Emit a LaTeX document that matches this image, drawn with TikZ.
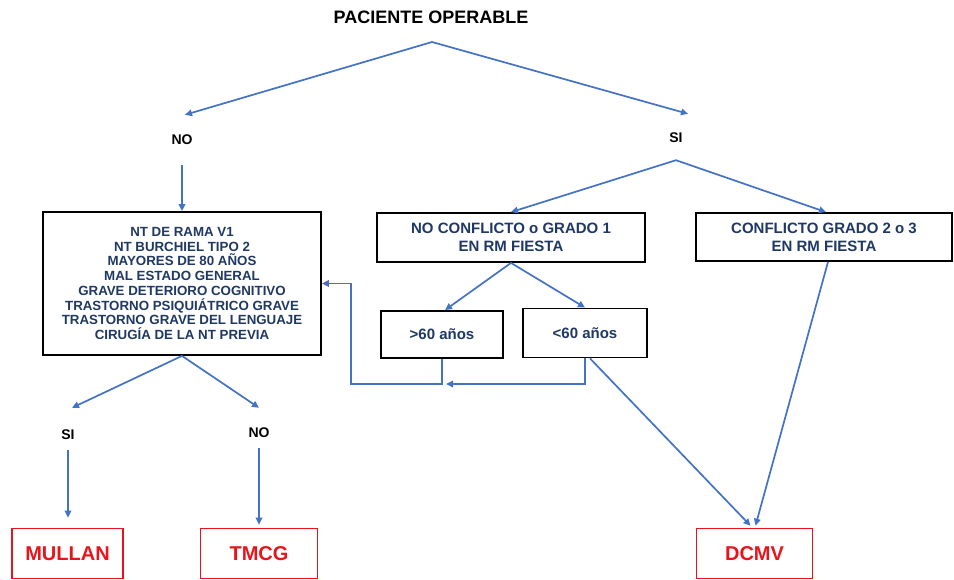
\documentclass[tikz,border=0pt]{standalone}
\usepackage{fontspec}
\setmainfont{Liberation Sans}
\usetikzlibrary{arrows.meta}
\definecolor{arrblue}{HTML}{4472C4}
\definecolor{navy}{HTML}{1F3864}
\definecolor{redc}{HTML}{E8141B}
\tikzset{
  arr/.style={draw=arrblue, line width=1.7pt, -{Triangle[length=7pt,width=6.5pt]}},
  bbox/.style={draw=black, line width=1.8pt, inner sep=0pt, align=center, text=navy, font=\bfseries\fontsize{15}{18}\selectfont},
  rbox/.style={draw=redc, line width=1.6pt, inner sep=0pt, text=redc, font=\bfseries\fontsize{20}{24}\selectfont},
  lbl/.style={inner sep=0pt, text=black, font=\bfseries\fontsize{14}{16}\selectfont}
}
\begin{document}
\begin{tikzpicture}[x=1pt,y=-1pt]
\useasboundingbox (0,0) rectangle (954,579);
\fill[white] (0,0) rectangle (954,579);
% title
\node[lbl, font=\bfseries\fontsize{18}{20}\selectfont] (title) at (431,17) {PACIENTE OPERABLE};
\coordinate (apex) at (432,42);
% first level labels
\node[lbl, minimum height=50pt] (no1) at (182,140) {NO};
\node[lbl, minimum height=44pt] (si1) at (676,138) {SI};
% boxes
\node[bbox, minimum width=278pt, minimum height=143pt,
      font=\bfseries\fontsize{13.3}{14.7}\selectfont] (big) at (182,283.5)
  {NT DE RAMA V1\\NT BURCHIEL TIPO 2\\MAYORES DE 80 AÑOS\\MAL ESTADO GENERAL\\GRAVE DETERIORO COGNITIVO\\TRASTORNO PSIQUIÁTRICO GRAVE\\TRASTORNO GRAVE DEL LENGUAJE\\CIRUGÍA DE LA NT PREVIA};
\node[bbox, minimum width=268pt, minimum height=49pt] (nc) at (511,237.5)
  {NO CONFLICTO o GRADO 1\\EN RM FIESTA};
\node[bbox, minimum width=256pt, minimum height=48pt] (c23) at (824,237)
  {CONFLICTO GRADO 2 o 3\\EN RM FIESTA};
\node[bbox, minimum width=122pt, minimum height=47pt] (g60) at (442,334.5) {>60 años};
\node[bbox, minimum width=124pt, minimum height=49pt] (l60) at (585,333) {<60 años};
% second level labels
\node[lbl, minimum height=30pt] (si2) at (68,435) {SI};
\node[lbl, minimum height=30pt] (no2) at (259,433) {NO};
% result boxes
\node[rbox, minimum width=111pt, minimum height=50pt] (mullan) at (67.5,553.5) {MULLAN};
\node[rbox, minimum width=117pt, minimum height=50pt] (tmcg) at (259,553.5) {TMCG};
\node[rbox, minimum width=116pt, minimum height=50pt] (dcmv) at (754.5,553.5) {DCMV};
% connectors
\draw[arr] (apex) -- ([xshift=3pt]no1.north);
\draw[arr] (apex) -- ([xshift=12pt,yshift=2pt]si1.north);
\draw[arr] (no1.south) -- (big.north);
\draw[arr] (si1.south) -- (nc.north);
\draw[arr] (si1.south) -- ([xshift=2pt]c23.north);
\draw[arr] (nc.south) -- ([xshift=3pt]g60.north);
\draw[arr] (nc.south) -- (l60.north);
\coordinate (lp) at (351,384);
\coordinate (mj) at (446,384);
\draw[arr] (g60.south) |- (lp) |- (big.east);
\draw[arr] (l60.south) |- (mj);
\draw[arr] ([xshift=5pt]l60.south) -- ([xshift=-4pt,yshift=2pt]dcmv.north);
\draw[arr] ([xshift=4pt]c23.south) -- ([xshift=1pt,yshift=2pt]dcmv.north);
\draw[arr] (big.south) -- ([xshift=4pt,yshift=12pt]si2.north);
\draw[arr] (big.south) -- ([yshift=10pt]no2.north);
\draw[arr] (si2.south) -- ([xshift=0.5pt,yshift=10pt]mullan.north);
\draw[arr] (no2.south) -- ([yshift=3pt]no2.south |- tmcg.north);
\end{tikzpicture}
\end{document}
